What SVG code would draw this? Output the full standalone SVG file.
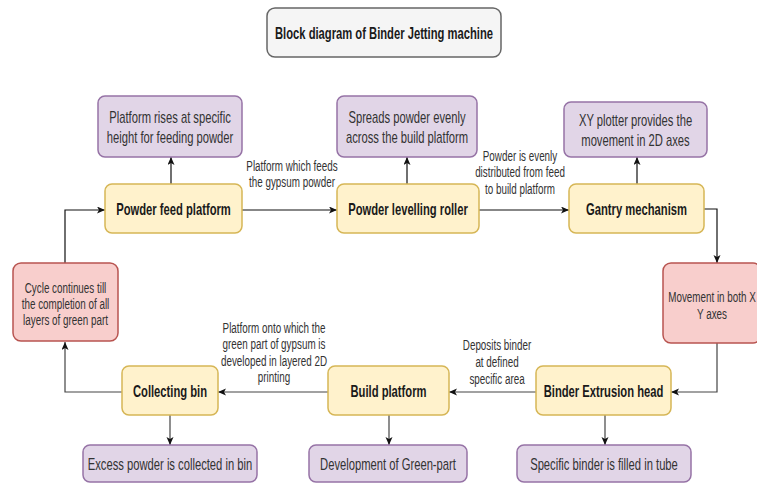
<svg xmlns="http://www.w3.org/2000/svg" width="757" height="484" viewBox="0 0 757 484">
<style>
text{font-family:"Liberation Sans",Arial,sans-serif;text-anchor:middle;fill:#1a1a1a}
.b{font-weight:bold;font-size:17px}
.r{font-size:17px;fill:#333}
.s{font-size:14.5px;fill:#333}
.y{fill:#fff2cc;stroke:#d6b656;stroke-width:1.5}
.p{fill:#e1d5e7;stroke:#9673a6;stroke-width:1.5}
.rd{fill:#f8cecc;stroke:#b85450;stroke-width:1.5}
.t{fill:#f5f5f5;stroke:#666;stroke-width:1.5}
.c{fill:none;stroke:#111;stroke-width:1.2}
.c2{fill:none;stroke:#444;stroke-width:1.2}
</style>
<defs>
<marker id="a" markerWidth="9" markerHeight="8" refX="8" refY="3.5" orient="auto" markerUnits="userSpaceOnUse">
<path d="M0,0 L8,3.5 L0,7 L2,3.5 z" fill="#111"/>
</marker>
</defs>
<rect width="757" height="484" fill="#fff"/>
<g id="title">
<rect class="t" x="267" y="8" width="234" height="49" rx="8"/>
<text class="b" transform="translate(384,38.5) scale(0.66,1)" x="0">Block diagram of Binder Jetting machine</text>
</g>
<g id="connectors">
<path class="c" d="M65,263 L65,210 L105,210" marker-end="url(#a)"/>
<path class="c" d="M171,184 L171,157" marker-end="url(#a)"/>
<path class="c" d="M242,210 L337,210" marker-end="url(#a)"/>
<path class="c" d="M407,184 L407,157" marker-end="url(#a)"/>
<path class="c" d="M479,210 L569,210" marker-end="url(#a)"/>
<path class="c" d="M637,184 L637,157" marker-end="url(#a)"/>
<path class="c" d="M704,209 L717,209 L717,263" marker-end="url(#a)"/>
<path class="c2" d="M717,343 L717,392 L671,392" marker-end="url(#a)"/>
<path class="c2" d="M605,415 L605,445" marker-end="url(#a)"/>
<path class="c2" d="M536,392 L449,392" marker-end="url(#a)"/>
<path class="c2" d="M389,415 L389,445" marker-end="url(#a)"/>
<path class="c2" d="M328,392 L218,392" marker-end="url(#a)"/>
<path class="c2" d="M170,415 L170,445" marker-end="url(#a)"/>
<path class="c2" d="M122,392 L65,392 L65,342" marker-end="url(#a)"/>
<text class="s" transform="translate(292,0) scale(0.68,1)"><tspan x="0" y="171">Platform which feeds</tspan><tspan x="0" y="187">the gypsum powder</tspan></text>
<text class="s" transform="translate(520,0) scale(0.68,1)"><tspan x="0" y="161">Powder is evenly</tspan><tspan x="0" y="177.5">distributed from feed</tspan><tspan x="0" y="194">to build platform</tspan></text>
<text class="s" transform="translate(497,0) scale(0.68,1)"><tspan x="0" y="350">Deposits binder</tspan><tspan x="0" y="367">at defined</tspan><tspan x="0" y="384">specific area</tspan></text>
<text class="s" transform="translate(274,0) scale(0.68,1)"><tspan x="0" y="333">Platform onto which the</tspan><tspan x="0" y="349.5">green part of gypsum is</tspan><tspan x="0" y="366">developed in layered 2D</tspan><tspan x="0" y="382.5">printing</tspan></text>
</g>
<g id="n-rise">
<rect class="p" x="98" y="96" width="144" height="61" rx="7"/>
<text class="r" transform="translate(170,0) scale(0.66,1)"><tspan x="0" y="123">Platform rises at specific</tspan><tspan x="0" y="143">height for feeding powder</tspan></text>
</g>
<g id="n-feed">
<rect class="y" x="105" y="184" width="137" height="49" rx="7"/>
<text class="b" transform="translate(173.5,214.5) scale(0.66,1)" x="0">Powder feed platform</text>
</g>
<g id="n-spread">
<rect class="p" x="337" y="96" width="140" height="61" rx="7"/>
<text class="r" transform="translate(407,0) scale(0.66,1)"><tspan x="0" y="123">Spreads powder evenly</tspan><tspan x="0" y="143">across the build platform</tspan></text>
</g>
<g id="n-roller">
<rect class="y" x="337" y="184" width="142" height="49" rx="7"/>
<text class="b" transform="translate(408,214.5) scale(0.66,1)" x="0">Powder levelling roller</text>
</g>
<g id="n-xy">
<rect class="p" x="564" y="102" width="143" height="55" rx="7"/>
<text class="r" transform="translate(635.5,0) scale(0.66,1)"><tspan x="0" y="126">XY plotter provides the</tspan><tspan x="0" y="146">movement in 2D axes</tspan></text>
</g>
<g id="n-gantry">
<rect class="y" x="569" y="184" width="135" height="49" rx="7"/>
<text class="b" transform="translate(636.5,214.5) scale(0.66,1)" x="0">Gantry mechanism</text>
</g>
<g id="n-move">
<rect class="rd" x="663" y="263" width="98" height="80" rx="8"/>
<text class="s" transform="translate(712,0) scale(0.68,1)"><tspan x="0" y="302">Movement in both X</tspan><tspan x="0" y="319.5">Y axes</tspan></text>
</g>
<g id="n-head">
<rect class="y" x="536" y="366" width="135" height="49" rx="7"/>
<text class="b" transform="translate(603.5,396.5) scale(0.66,1)" x="0">Binder Extrusion head</text>
</g>
<g id="n-tube">
<rect class="p" x="517" y="445" width="174" height="37" rx="7"/>
<text class="r" transform="translate(604,469.5) scale(0.66,1)" x="0">Specific binder is filled in tube</text>
</g>
<g id="n-build">
<rect class="y" x="328" y="366" width="121" height="49" rx="7"/>
<text class="b" transform="translate(388.5,396.5) scale(0.66,1)" x="0">Build platform</text>
</g>
<g id="n-green">
<rect class="p" x="309" y="445" width="158" height="37" rx="7"/>
<text class="r" transform="translate(388,469.5) scale(0.66,1)" x="0">Development of Green-part</text>
</g>
<g id="n-bin">
<rect class="y" x="122" y="366" width="96" height="49" rx="7"/>
<text class="b" transform="translate(170,396.5) scale(0.66,1)" x="0">Collecting bin</text>
</g>
<g id="n-excess">
<rect class="p" x="83" y="445" width="174" height="37" rx="7"/>
<text class="r" transform="translate(170,469.5) scale(0.66,1)" x="0">Excess powder is collected in bin</text>
</g>
<g id="n-cycle">
<rect class="rd" x="13" y="263" width="105" height="78" rx="8"/>
<text class="s" transform="translate(65.5,0) scale(0.68,1)"><tspan x="0" y="293">Cycle continues till</tspan><tspan x="0" y="309">the completion of all</tspan><tspan x="0" y="325">layers of green part</tspan></text>
</g>
</svg>
